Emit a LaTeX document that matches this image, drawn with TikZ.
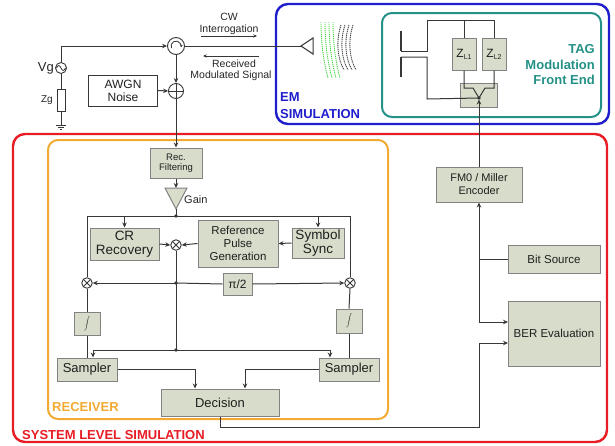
\documentclass[tikz,border=0pt]{standalone}
\usepackage{fontspec}
\setmainfont{Liberation Sans}
\usetikzlibrary{arrows.meta,calc}
\definecolor{boxfill}{RGB}{215,221,202}
\definecolor{boxline}{RGB}{130,130,130}
\definecolor{wirec}{RGB}{55,55,55}
\definecolor{sysred}{RGB}{232,28,36}
\definecolor{emblue}{RGB}{30,30,205}
\definecolor{tagteal}{RGB}{35,145,135}
\definecolor{rxorange}{RGB}{243,170,50}
\definecolor{wavegreen}{RGB}{80,215,80}
\newcommand{\fs}[1]{\fontsize{#1}{#1}\selectfont}
\newcommand{\integ}{\scalebox{0.65}{$\displaystyle\int$}}
\begin{document}
\begin{tikzpicture}[x=1pt,y=-1pt,
  blk/.style={draw=boxline,fill=boxfill,line width=1pt,inner sep=0pt,align=center,text=black!88},
  wire/.style={draw=wirec,line width=1pt},
  arr/.style={wire,-{Stealth[length=5pt,width=4.5pt]}},
  jdot/.style={circle,fill=wirec,inner sep=0pt,minimum size=3.6pt},
  mixer/.style={circle,draw=wirec,fill=white,line width=0.9pt,minimum size=10.5pt,inner sep=0pt,
    path picture={\draw[wirec,line width=0.9pt] (path picture bounding box.north west)--(path picture bounding box.south east)
      (path picture bounding box.north east)--(path picture bounding box.south west);}},
  adder/.style={circle,draw=wirec,fill=white,line width=0.9pt,minimum size=15pt,inner sep=0pt,
    path picture={\draw[wirec,line width=0.9pt] (path picture bounding box.north)--(path picture bounding box.south)
      (path picture bounding box.east)--(path picture bounding box.west);}},
  frame/.style={line width=2.4pt,rounded corners=12pt},
  framelabel/.style={font=\bfseries\fs{13},inner sep=0pt,align=left},
  note/.style={font=\fs{10.5},inner sep=0pt,text=black!85,align=center},
  wave/.style={line width=0.9pt,dash pattern=on 1.2pt off 0.8pt}
]
\useasboundingbox (0,0) rectangle (615,445);

% ---------- frames ----------
\draw[frame,emblue] (276,4) rectangle (609,124);
\draw[frame,tagteal,line width=2pt,rounded corners=10pt] (382,13) rectangle (601,117);
\draw[frame,sysred] (13,134) rectangle (607,442);
\draw[frame,rxorange,line width=2pt,rounded corners=10pt] (48,140) rectangle (388,419);

\node[framelabel,text=emblue,anchor=west] at (280,97) {EM};
\node[framelabel,text=emblue,anchor=west] at (280,114) {SIMULATION};
\node[framelabel,text=tagteal,anchor=east,align=right] (taglbl) at (595,65) {TAG\\[2.5pt]Modulation\\[2.5pt]Front End};
\node[framelabel,text=sysred,anchor=west] at (22,435) {SYSTEM LEVEL SIMULATION};
\node[framelabel,text=rxorange,anchor=west] at (52,407) {RECEIVER};

% ---------- reader front end ----------
\node[circle,draw=wirec,line width=0.9pt,minimum size=11pt,inner sep=0pt] (vg) at (61,68) {};
\draw[wirec,line width=0.8pt] (56.5,68) sin (58.75,65.5) cos (61,68) sin (63.25,70.5) cos (65.5,68);
\node[anchor=east,font=\fs{13},inner sep=0pt,text=black!85] at (54,68) {Vg};
\node[draw=wirec,fill=white,line width=0.9pt,minimum width=8pt,minimum height=22pt,inner sep=0pt] (zg) at (61,100) {};
\node[anchor=east,font=\fs{10},inner sep=0pt,text=black!85] at (53,100) {Zg};
\coordinate (gnd) at (61,125);
\draw[wire] (vg.south) -- (zg.north);
\draw[wire] (zg.south) -- (gnd);
\draw[wire] ($(gnd)+(-5,0)$) -- ($(gnd)+(5,0)$);
\draw[wire] ($(gnd)+(-3,2.2)$) -- ($(gnd)+(3,2.2)$);
\draw[wire] ($(gnd)+(-1,4.4)$) -- ($(gnd)+(1,4.4)$);

\node[circle,draw=wirec,fill=white,line width=0.9pt,minimum size=17pt,inner sep=0pt] (circ) at (176,46) {};
\draw[wirec,line width=0.8pt,-{Stealth[length=2.8pt,width=2.8pt]}]
  ([shift={(205:5pt)}]circ.center) arc[start angle=205,end angle=-15,radius=5pt];
\draw[arr] (vg.north) |- (circ.west);

\node[adder] (add) at (176,91) {};
\node[blk,minimum width=69pt,minimum height=31pt,fill=white,draw=wirec,font=\fs{12}] (awgn) at (123,90.5) {AWGN\\[1pt]Noise};
\draw[arr] (awgn.east) -- (add.west);
\draw[arr] (circ.south) -- (add.north);

% antenna and waves
\coordinate (apex) at (301,46);
\draw[wire,fill=white] (apex) -- (313,38) -- (313,54) -- cycle;
\draw[wire] (circ.east) -- (apex);
\foreach \i in {0,1,2,3} {
  \draw[wave,wavegreen] (321+4*\i,22) .. controls (321+4*\i,40) and (323+4*\i,60) .. (328+4*\i,78);
  \draw[wave,black!75] (341+4*\i,25) .. controls (336+4*\i,40) and (337+4*\i,58) .. (344+4*\i,70);
}

% link labels
\node[note] (cwlbl) at (229,17) {CW};
\node[note] (intlbl) at (229,30) {Interrogation};
\draw[wirec,line width=0.7pt,-{Stealth[length=3.8pt,width=3.3pt]}] (201,36) -- (257,36);
\draw[wirec,line width=0.7pt,-{Stealth[length=3.8pt,width=3.3pt]}] (259,56) -- (203,56);
\node[note] (rxlbl) at (234,64) {Received};
\node[note] (modlbl) at (231,76) {Modulated Signal};

% ---------- tag ----------
\draw[wirec,line width=1.8pt] (401,31) -- (401,51);
\draw[wirec,line width=1.8pt] (401,57) -- (401,77);
\node[blk,minimum width=24pt,minimum height=32pt] (zl1) at (464,54) {\fs{12}Z\raisebox{-2pt}{\fs{7}L1}};
\node[blk,minimum width=24pt,minimum height=32pt] (zl2) at (494,54) {\fs{12}Z\raisebox{-2pt}{\fs{7}L2}};
\node[blk,minimum width=37pt,minimum height=24pt] (sw) at (479,95) {};
\coordinate (swp) at (479,98);
\draw[wire] (401,51) -- (427,51) -- (427,20) -- (494,20) -- (zl2.north);
\draw[wire] (zl1.north |- 0,20) -- (zl1.north);
\draw[wire] (401,57) -- (427,57) -- (427,99) -- (swp);
\draw[wire] (zl1.south) -- (464,88) -- (473,88) -- (swp);
\draw[wire] (zl2.south) -- (494,88) -- (485,88) -- (swp);
\node[jdot] at (swp) {};

% ---------- receiver ----------
\node[blk,minimum width=52pt,minimum height=30pt,font=\fs{9.5}] (rec) at (176,163) {Rec.\\[1pt]Filtering};
\draw[arr] (add.south) -- (rec.north);
\coordinate (gtop) at (176,188);
\coordinate (gbot) at (176,209);
\draw[draw=boxline,fill=boxfill,line width=1pt] (165,188) -- (187,188) -- (gbot) -- cycle;
\node[anchor=west,font=\fs{11},inner sep=0pt,text=black!85] at (184,200) {Gain};
\draw[arr] (rec.south) -- (gtop);

\coordinate (busL) at (87,216);
\coordinate (busC) at (176,216);
\coordinate (busR) at (350,216);
\draw[wire] (gbot) -- (busC);
\draw[wire] (busL) -- (busR);
\node[jdot] at (busC) {};

\node[blk,minimum width=69pt,minimum height=32pt,font=\fs{13.5}] (cr) at (124.5,244) {CR\\[1pt]Recovery};
\node[blk,minimum width=80pt,minimum height=47pt,font=\fs{11.5}] (ref) at (238,243.5) {Reference\\[1.5pt]Pulse\\[1.5pt]Generation};
\node[blk,minimum width=52pt,minimum height=30pt,font=\fs{13.5}] (sync) at (318,243) {Symbol\\[1pt]Sync};
\node[mixer] (mixc) at (176,245) {};
\draw[arr] (cr.north |- busC) -- (cr.north);
\draw[arr] (sync.north |- busC) -- (sync.north);
\draw[arr] (cr.east) -- (mixc.west);
\draw[arr] (ref.west) -- (mixc.east);
\draw[arr] (sync.west) -- (ref.east);

\node[mixer] (mixl) at (87,283) {};
\node[mixer] (mixr) at (350,283) {};
\node[blk,minimum width=29pt,minimum height=22pt,font=\fs{12}] (pi) at (237.5,284) {π/2};
\coordinate (pdot) at (176,283);
\coordinate (sdot) at (176,350);
\draw[wire] (busL) -- (mixl.north);
\draw[wire] (busR) -- (mixr.north);
\draw[wire] (mixc.south) -- (sdot);
\draw[arr] (pdot) -- (mixl.east);
\draw[wire] (pdot) -- (pi.west);
\draw[arr] (pi.east) -- (mixr.west);
\node[jdot] at (pdot) {};

\node[blk,minimum width=26pt,minimum height=23pt] (intl) at (87,323.5) {\integ};
\node[blk,minimum width=26pt,minimum height=24pt] (intr) at (349,321) {\integ};
\node[blk,minimum width=60pt,minimum height=23pt,font=\fs{13}] (sampl) at (87,369.5) {Sampler};
\node[blk,minimum width=60pt,minimum height=23pt,font=\fs{13}] (sampr) at (349,369.5) {Sampler};
\node[blk,minimum width=118pt,minimum height=27pt,font=\fs{13}] (dec) at (220,402.5) {Decision};
\draw[wire] (mixl.south) -- (intl.north);
\draw[wire] (intl.south) -- (sampl.north);
\draw[wire] (mixr.south) -- (intr.north);
\draw[wire] (intr.south) -- (sampr.north);
\draw[arr] (sdot) -| ([xshift=6pt]sampl.north);
\draw[arr] (sdot) -| ([xshift=-19pt]sampr.north);
\node[jdot] at (sdot) {};
\draw[arr] (sampl.east) -| ([xshift=-25pt]dec.north);
\draw[arr] (sampr.west) -| ([xshift=25pt]dec.north);

% ---------- coding and BER ----------
\node[blk,minimum width=86pt,minimum height=35pt,font=\fs{11}] (fm0) at (479,184.5) {FM0 / Miller\\[2pt]Encoder};
\node[blk,minimum width=92pt,minimum height=28pt,font=\fs{11.5}] (bit) at (554,259) {Bit Source};
\node[blk,minimum width=92pt,minimum height=65pt,font=\fs{11.5}] (ber) at (554,333.5) {BER Evaluation};
\coordinate (bitj) at (479,259);
\coordinate (berin1) at (508,322);
\coordinate (berin2) at (508,343);
\draw[arr,shorten >=1.5pt] (fm0.north) -- (swp);
\draw[wire] (bit.west) -- (bitj);
\draw[arr] (bitj) -- (fm0.south);
\draw[arr] (bitj) |- (berin1);
\draw[arr] (dec.south) |- (479,427) |- (berin2);
\end{tikzpicture}
\end{document}
